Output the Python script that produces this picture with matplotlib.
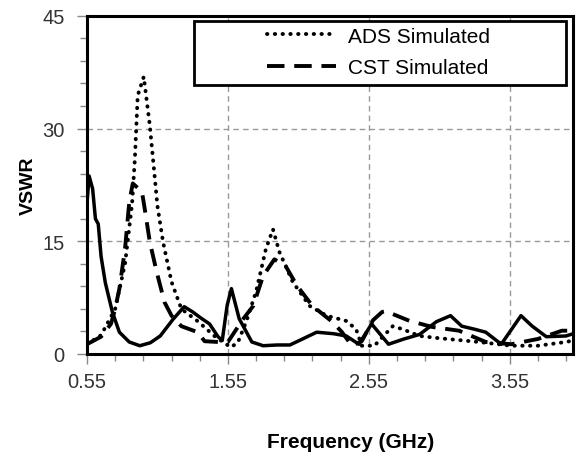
import matplotlib.pyplot as plt
from matplotlib.patches import Rectangle
from matplotlib.ticker import MultipleLocator, FixedLocator

plt.rcParams["font.family"] = ["Liberation Sans", "DejaVu Sans"]

# Measured (solid line, not in legend)
meas_f = [0.55, 0.565, 0.59, 0.61, 0.63, 0.65, 0.68, 0.73, 0.78, 0.85, 0.925, 1.0,
          1.07, 1.16, 1.24, 1.3, 1.35, 1.42, 1.48, 1.51, 1.545, 1.575, 1.63, 1.72,
          1.8, 1.9, 1.99, 2.08, 2.18, 2.3, 2.39, 2.48, 2.57, 2.69, 2.8, 2.91, 3.03,
          3.13, 3.21, 3.3, 3.38, 3.49, 3.63, 3.71, 3.81, 3.95, 4.0]
meas_v = [20.0, 23.7, 22.0, 18.0, 17.3, 13.0, 9.5, 5.6, 2.9, 1.6, 1.1, 1.5,
          2.4, 4.6, 6.3, 5.6, 4.9, 4.0, 2.3, 1.8, 6.5, 8.7, 4.7, 1.6,
          1.1, 1.2, 1.2, 2.0, 2.9, 2.7, 2.4, 1.3, 4.0, 1.3, 2.0, 2.6, 4.3,
          5.1, 3.7, 3.3, 2.9, 1.3, 5.1, 3.7, 2.3, 2.4, 2.7]

# ADS simulated (dotted)
ads_f = [0.55, 0.65, 0.75, 0.82, 0.87, 0.89, 0.91, 0.953, 0.996, 1.03, 1.05,
         1.09, 1.15, 1.22, 1.34, 1.46, 1.57, 1.62, 1.68, 1.75, 1.82, 1.87,
         1.915, 2.01, 2.13, 2.25, 2.39, 2.46, 2.5, 2.59, 2.72, 2.79, 2.91,
         3.05, 3.33, 3.56, 3.75, 3.95, 4.0]
ads_v = [1.3, 2.5, 6.0, 12.0, 20.0, 26.0, 34.4, 36.9, 30.4, 23.7, 19.7,
         14.9, 9.6, 6.0, 4.3, 2.3, 0.9, 1.5, 4.3, 8.3, 14.0, 16.6,
         13.6, 9.6, 6.4, 5.1, 4.4, 3.3, 1.1, 1.1, 3.7, 3.3, 2.4,
         2.1, 1.6, 1.1, 1.1, 1.6, 1.8]

# CST simulated (dashed)
cst_f = [0.55, 0.65, 0.72, 0.75, 0.78, 0.82, 0.85, 0.875, 0.94, 0.96, 0.996,
         1.045, 1.10, 1.15, 1.22, 1.335, 1.385, 1.48, 1.55, 1.66, 1.73, 1.80,
         1.88, 1.96, 2.04, 2.15, 2.29, 2.36, 2.43, 2.50, 2.58, 2.645, 2.67,
         2.84, 3.0, 3.19, 3.38, 3.56, 3.75, 3.92, 4.0]
cst_v = [1.3, 2.3, 4.0, 6.0, 8.7, 14.0, 20.2, 22.7, 21.6, 19.3, 14.9,
         10.9, 6.9, 5.1, 3.7, 2.9, 1.7, 1.6, 1.6, 4.7, 6.4, 10.4,
         12.6, 11.7, 9.1, 6.4, 4.3, 2.9, 1.1, 1.7, 4.5, 5.6, 5.7,
         4.4, 3.6, 3.1, 1.6, 1.3, 2.0, 3.1, 3.1]

xticks = [0.55, 1.55, 2.55, 3.55]
xtick_labels = ["0.55", "1.55", "2.55", "3.55"]
yticks = [0, 15, 30, 45]

fig = plt.figure(figsize=(5.76, 4.56), dpi=100)
ax = fig.add_axes([0.151, 0.2215, 0.844, 0.7415])

ax.plot(meas_f, meas_v, color="black", linewidth=2.5, solid_joinstyle="round")
ax.plot(ads_f, ads_v, color="black", linewidth=2.8, linestyle=(0, (0.1, 1.9)),
        dash_capstyle="round", label="ADS Simulated")
ax.plot(cst_f, cst_v, color="black", linewidth=2.8, linestyle=(0, (4.5, 2.5)),
        label="CST Simulated")

ax.set_xlim(0.55, 4.0)
ax.set_ylim(0, 45)
ax.xaxis.set_major_locator(FixedLocator(xticks))
ax.xaxis.set_minor_locator(MultipleLocator(0.2, offset=0.15))
ax.yaxis.set_major_locator(FixedLocator(yticks))
ax.yaxis.set_minor_locator(MultipleLocator(3))
ax.set_xticklabels(xtick_labels)

ax.grid(True, which="major", color="#999999", linestyle=(0, (4, 3)), linewidth=1)
ax.tick_params(which="both", direction="out", colors="#888888", labelcolor="#333333",
               labelsize=14.5)
ax.tick_params(which="major", length=7, width=1)
ax.tick_params(axis="x", which="major", pad=6)
ax.tick_params(axis="y", which="major", pad=9)
ax.tick_params(which="minor", length=5, width=1)
for s in ax.spines.values():
    s.set_linewidth(2.2)
    s.set_color("black")

ax.set_xlabel("Frequency (GHz)", fontsize=15, fontweight="bold", va="top")
ax.xaxis.set_label_coords(0.543, -0.232)
ax.set_ylabel("VSWR", fontsize=14, fontweight="bold")
ax.yaxis.set_label_coords(-0.103, 0.5)

# legend frame drawn separately so the box can be wider than its content
ax.add_patch(Rectangle((0.220, 0.796), 0.766, 0.189, transform=ax.transAxes,
                       facecolor="white", edgecolor="black", linewidth=2, zorder=4))
leg = ax.legend(loc="upper left", bbox_to_anchor=(0.356, 0.99), fontsize=15,
                handlelength=3.3, handletextpad=0.55, labelspacing=0.6,
                frameon=False, borderpad=0.35, borderaxespad=0)
leg.set_zorder(5)

fig.savefig("out.png", dpi=100)
